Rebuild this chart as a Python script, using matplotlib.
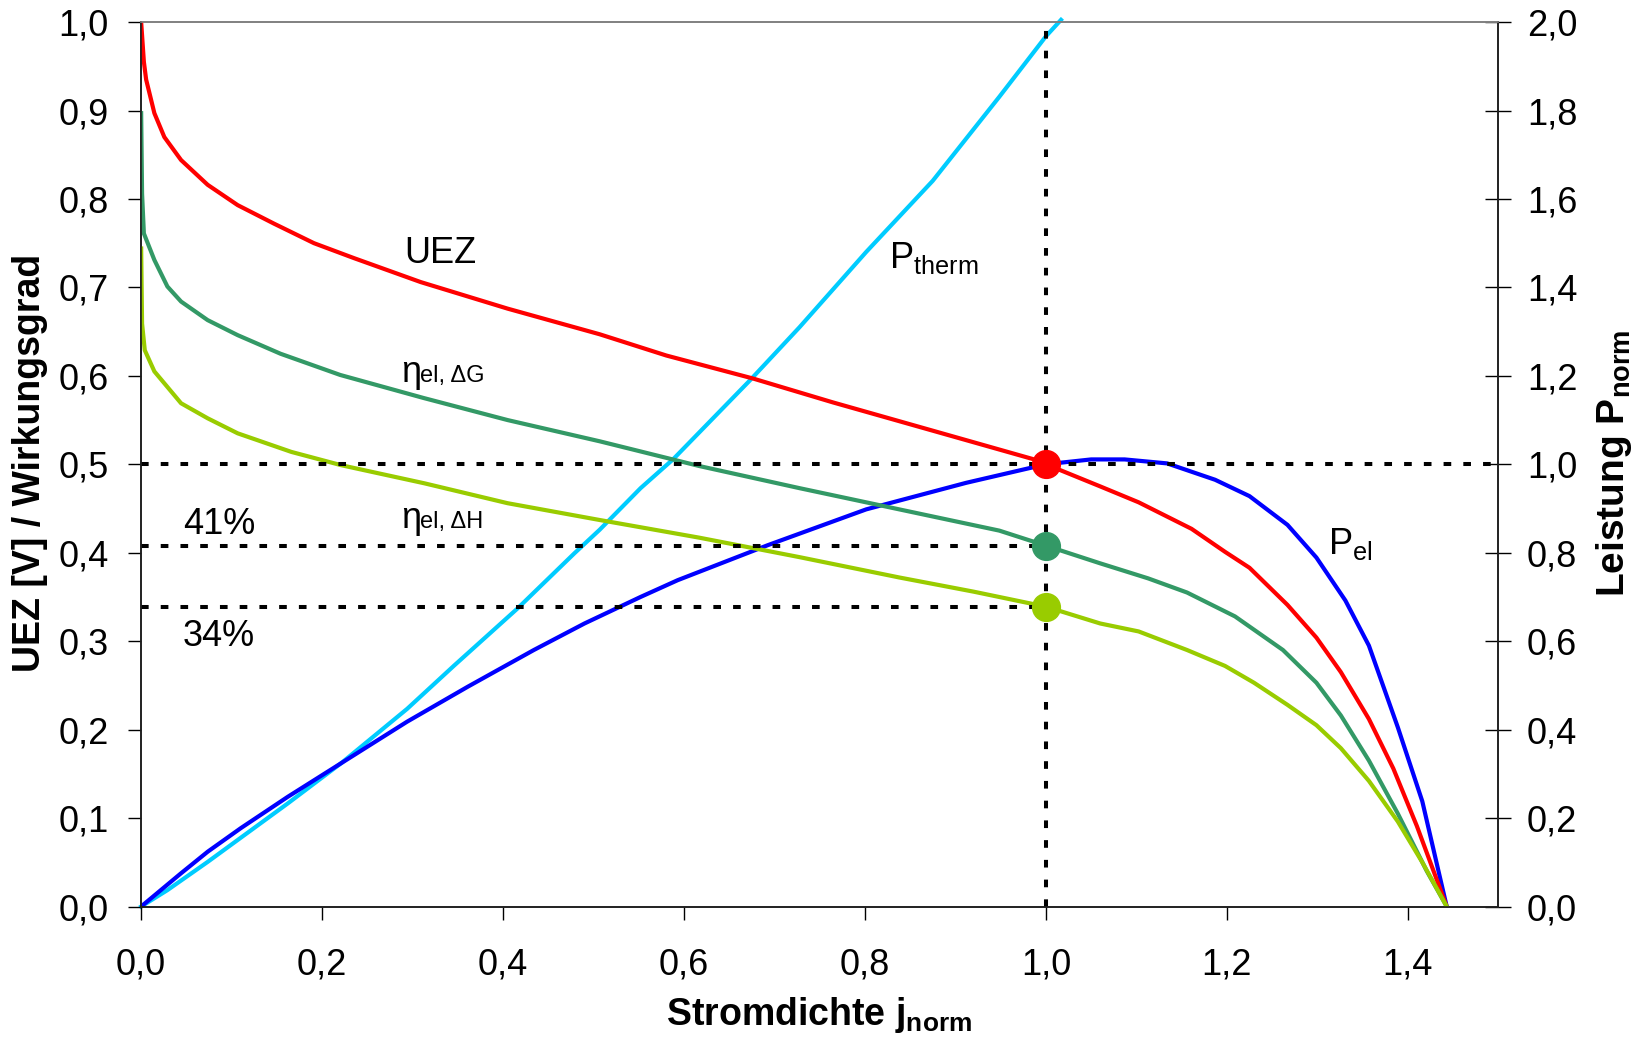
import matplotlib
import matplotlib.pyplot as plt

matplotlib.use("Agg")

plt.rcParams["font.family"] = ["Liberation Sans", "DejaVu Sans"]
plt.rcParams["mathtext.fontset"] = "custom"
plt.rcParams["mathtext.rm"] = "Liberation Sans"
plt.rcParams["mathtext.it"] = "Liberation Sans:italic"
plt.rcParams["mathtext.bf"] = "Liberation Sans:bold"

# values
j_uez = [0, 0.003, 0.0055, 0.0146, 0.0256, 0.0441, 0.0735, 0.1067, 0.147, 0.191, 0.2355,
         0.309, 0.405, 0.5068, 0.5804, 0.6762, 0.7645, 0.8749, 0.9853, 1.0, 1.06, 1.1025,
         1.161, 1.198, 1.225, 1.267, 1.299, 1.326, 1.357, 1.384, 1.41, 1.443]
uez = [1.0, 0.955, 0.935, 0.897, 0.870, 0.844, 0.816, 0.793, 0.772, 0.750, 0.733,
       0.706, 0.676, 0.647, 0.623, 0.597, 0.570, 0.538, 0.506, 0.500, 0.475, 0.457,
       0.427, 0.401, 0.383, 0.341, 0.304, 0.265, 0.212, 0.156, 0.091, 0.0]

j_eta_g = [0, 0.001, 0.003, 0.0146, 0.029, 0.0441, 0.0735, 0.1067, 0.154, 0.220, 0.312,
           0.405, 0.5068, 0.617, 0.7277, 0.838, 0.9485, 1.0, 1.06, 1.113, 1.156, 1.209,
           1.262, 1.299, 1.326, 1.357, 1.389, 1.421, 1.443]
eta_g = [0.897, 0.806, 0.761, 0.731, 0.701, 0.684, 0.663, 0.646, 0.625, 0.601, 0.575,
         0.550, 0.526, 0.498, 0.473, 0.449, 0.425, 0.408, 0.388, 0.371, 0.355, 0.328,
         0.290, 0.253, 0.216, 0.165, 0.105, 0.040, 0.0]

j_eta_h = [0, 0.001, 0.004, 0.0146, 0.0441, 0.0735, 0.1067, 0.166, 0.221, 0.313, 0.405,
           0.5068, 0.617, 0.7277, 0.838, 0.92, 1.0, 1.06, 1.1025, 1.156, 1.198, 1.23,
           1.267, 1.299, 1.326, 1.357, 1.389, 1.416, 1.443]
eta_h = [0.744, 0.659, 0.629, 0.605, 0.569, 0.552, 0.535, 0.514, 0.499, 0.4785, 0.456,
         0.437, 0.417, 0.395, 0.372, 0.356, 0.339, 0.320, 0.311, 0.290, 0.272, 0.253,
         0.228, 0.205, 0.179, 0.142, 0.096, 0.050, 0.0]

j_pel = [0, 0.044, 0.0736, 0.110, 0.162, 0.221, 0.294, 0.361, 0.434, 0.490, 0.552, 0.5931,
         0.6925, 0.8013, 0.9117, 1.0, 1.05, 1.087, 1.134, 1.187, 1.225, 1.267, 1.299,
         1.331, 1.357, 1.389, 1.416, 1.443]
p_el = [0, 0.075, 0.124, 0.177, 0.248, 0.324, 0.418, 0.497, 0.580, 0.640, 0.700, 0.738,
        0.817, 0.898, 0.958, 1.0, 1.011, 1.011, 1.002, 0.965, 0.928, 0.863, 0.789,
        0.692, 0.59, 0.405, 0.238, 0.0]

j_ptherm = [0, 0.029, 0.0736, 0.162, 0.221, 0.294, 0.346, 0.416, 0.479, 0.5068, 0.552,
            0.5878, 0.6725, 0.7277, 0.8013, 0.8749, 0.9485, 1.0001, 1.0167]
p_therm = [0, 0.037, 0.101, 0.233, 0.324, 0.447, 0.545, 0.674, 0.799, 0.852, 0.946,
           1.011, 1.189, 1.310, 1.480, 1.641, 1.831, 1.968, 2.005]

# operating point at j_norm = 1
j_op = 1.0
uez_op = 0.5
eta_g_op = 0.408
eta_h_op = 0.339

x_ticks = [0.0, 0.2, 0.4, 0.6, 0.8, 1.0, 1.2, 1.4]
y_ticks = [0.0, 0.1, 0.2, 0.3, 0.4, 0.5, 0.6, 0.7, 0.8, 0.9, 1.0]
y2_ticks = [0.0, 0.2, 0.4, 0.6, 0.8, 1.0, 1.2, 1.4, 1.6, 1.8, 2.0]


def komma(values):
    return [f"{v:.1f}".replace(".", ",") for v in values]


RED = "#FF0000"
TEAL = "#339966"
LIME = "#99CC00"
CYAN = "#00CCFF"
BLUE = "#0000FF"
dots = (0, (1.9, 3.0))

fig, ax = plt.subplots(figsize=(16.51, 10.41), dpi=100)
fig.subplots_adjust(left=0.0855, right=0.9075, bottom=0.1292, top=0.9788)
ax2 = ax.twinx()
ax.set_zorder(ax2.get_zorder() + 1)
ax.patch.set_visible(False)

# power curves on the right axis
ax2.plot(j_ptherm, p_therm, color=CYAN, lw=3.0, clip_on=False)
ax2.plot(j_pel, p_el, color=BLUE, lw=3.0)

ax.plot(j_uez, uez, color=RED, lw=3.0)
ax.plot(j_eta_g, eta_g, color=TEAL, lw=3.0)
ax.plot(j_eta_h, eta_h, color=LIME, lw=3.0)

# dotted guide lines
ax.plot([0, 1.5], [uez_op, uez_op], color="black", lw=2.9, ls=dots)
ax.plot([0, j_op], [eta_g_op, eta_g_op], color="black", lw=2.9, ls=dots)
ax.plot([0, j_op], [eta_h_op, eta_h_op], color="black", lw=2.9, ls=dots)
ax.plot([j_op, j_op], [0, 1.0], color="black", lw=2.9, ls=dots)

ax.plot(j_op, uez_op, "o", color=RED, ms=20, zorder=5)
ax.plot(j_op, eta_g_op, "o", color=TEAL, ms=20, zorder=5)
ax.plot(j_op, eta_h_op, "o", color=LIME, ms=20, zorder=5)

ax.set_xlim(0, 1.5)
ax.set_ylim(0, 1.0)
ax2.set_ylim(0, 2.0)

ax.set_xticks(x_ticks, komma(x_ticks))
ax.set_yticks(y_ticks, komma(y_ticks))
ax2.set_yticks(y2_ticks, komma(y2_ticks))

ax.tick_params(axis="y", direction="out", length=9.4, width=1, pad=14, labelsize=26)
ax.tick_params(axis="x", direction="out", length=9.4, width=1, pad=20, labelsize=26)
ax2.tick_params(axis="y", direction="inout", length=19, width=1, pad=11, labelsize=26)

for a in (ax, ax2):
    for side in ("left", "bottom", "right"):
        a.spines[side].set_color("#202020")
        a.spines[side].set_linewidth(1.2)
    a.spines["top"].set_color("#808080")
    a.spines["top"].set_linewidth(1.2)

# curve labels
ax.text(0.331, 0.738, "UEZ", fontsize=26, ha="center", va="center")
ax.text(0.287, 0.593, "η", fontsize=26, va="baseline")
ax.text(0.308, 0.593, "el, ΔG", fontsize=17, va="baseline")
ax.text(0.287, 0.4276, "η", fontsize=26, va="baseline")
ax.text(0.308, 0.4276, "el, ΔH", fontsize=17, va="baseline")
ax.text(0.827, 0.733, r"P$_{\mathregular{therm}}$", fontsize=26, ha="left", va="center")
ax.text(1.312, 0.410, r"P$_{\mathregular{el}}$", fontsize=26, ha="left", va="center")
ax.text(0.086, 0.432, "41%", fontsize=26, ha="center", va="center")
ax.text(0.086, 0.305, "34%", fontsize=26, ha="center", va="center")

fig.text(0.0179, 0.555, "UEZ [V] / Wirkungsgrad", fontsize=27, fontweight="bold",
         rotation=90, ha="center", va="center")
fig.text(0.9776, 0.555, r"Leistung P$_{\mathbf{norm}}$", fontsize=28, fontweight="bold",
         rotation=90, ha="center", va="center")
fig.text(0.496, 0.0154, r"Stromdichte j$_{\mathbf{norm}}$", fontsize=27, fontweight="bold",
         ha="center", va="baseline")

fig.savefig("out.png", dpi=100)
plt.close(fig)
